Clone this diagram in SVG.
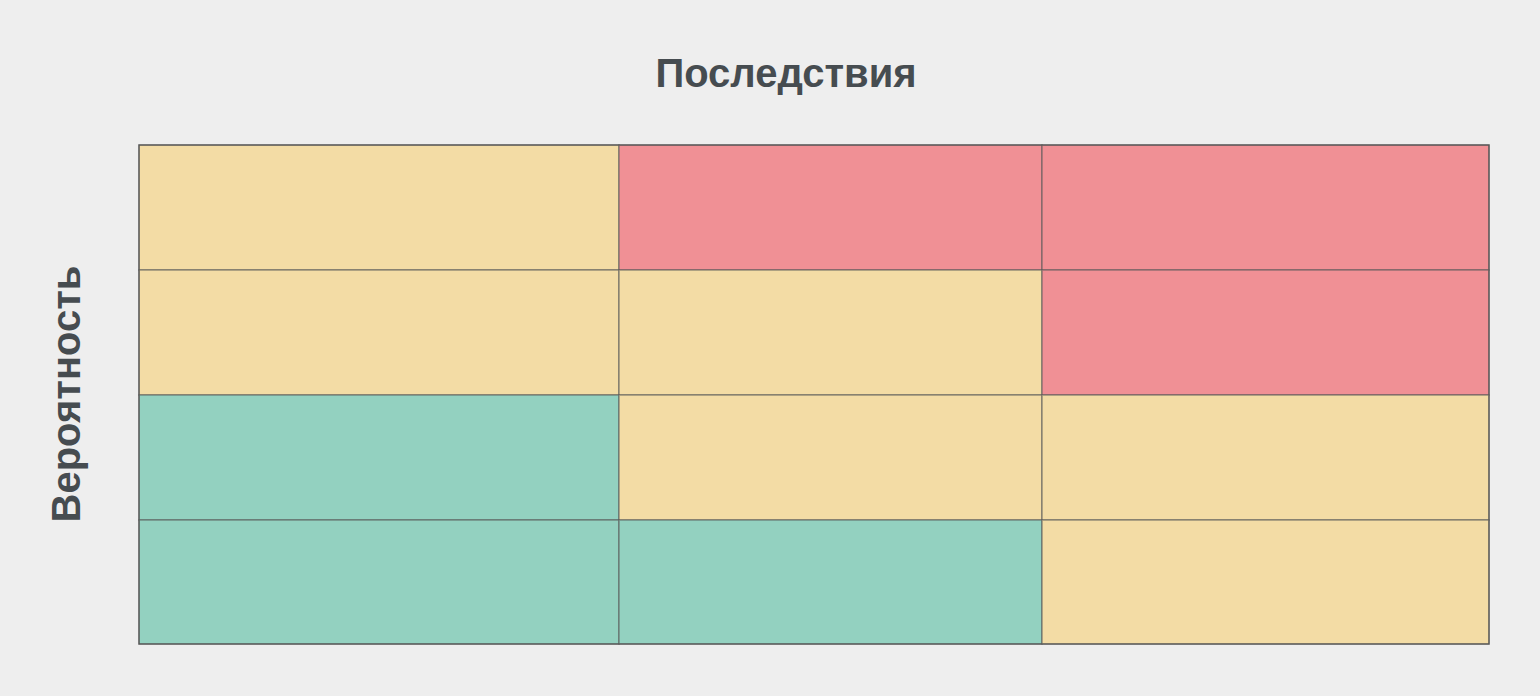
<svg xmlns="http://www.w3.org/2000/svg" width="1540" height="696" viewBox="0 0 1540 696">
<style>
.t{font-family:"Liberation Sans",Arial,sans-serif;font-weight:bold;font-size:40px;fill:#464c50}
.y{fill:#f3dca5}.r{fill:#f09095}.g{fill:#93d1c0}
.c{stroke:#5a5a5a;stroke-opacity:0.6;stroke-width:1.5}
</style>
<rect width="1540" height="696" fill="#eeeeee"/>
<text class="t" x="786" y="87" text-anchor="middle">Последствия</text>
<text class="t" x="0" y="0" text-anchor="middle" transform="translate(80,394) rotate(-90)">Вероятность</text>
<g id="grid">
<rect id="c11" class="y c" x="139" y="145" width="480" height="125"/>
<rect id="c12" class="r c" x="619" y="145" width="423" height="125"/>
<rect id="c13" class="r c" x="1042" y="145" width="447" height="125"/>
<rect id="c21" class="y c" x="139" y="270" width="480" height="125"/>
<rect id="c22" class="y c" x="619" y="270" width="423" height="125"/>
<rect id="c23" class="r c" x="1042" y="270" width="447" height="125"/>
<rect id="c31" class="g c" x="139" y="395" width="480" height="125"/>
<rect id="c32" class="y c" x="619" y="395" width="423" height="125"/>
<rect id="c33" class="y c" x="1042" y="395" width="447" height="125"/>
<rect id="c41" class="g c" x="139" y="520" width="480" height="124"/>
<rect id="c42" class="g c" x="619" y="520" width="423" height="124"/>
<rect id="c43" class="y c" x="1042" y="520" width="447" height="124"/>
<rect x="139" y="145" width="1350" height="499" fill="none" stroke="#555" stroke-width="1.2"/>
</g>
</svg>
